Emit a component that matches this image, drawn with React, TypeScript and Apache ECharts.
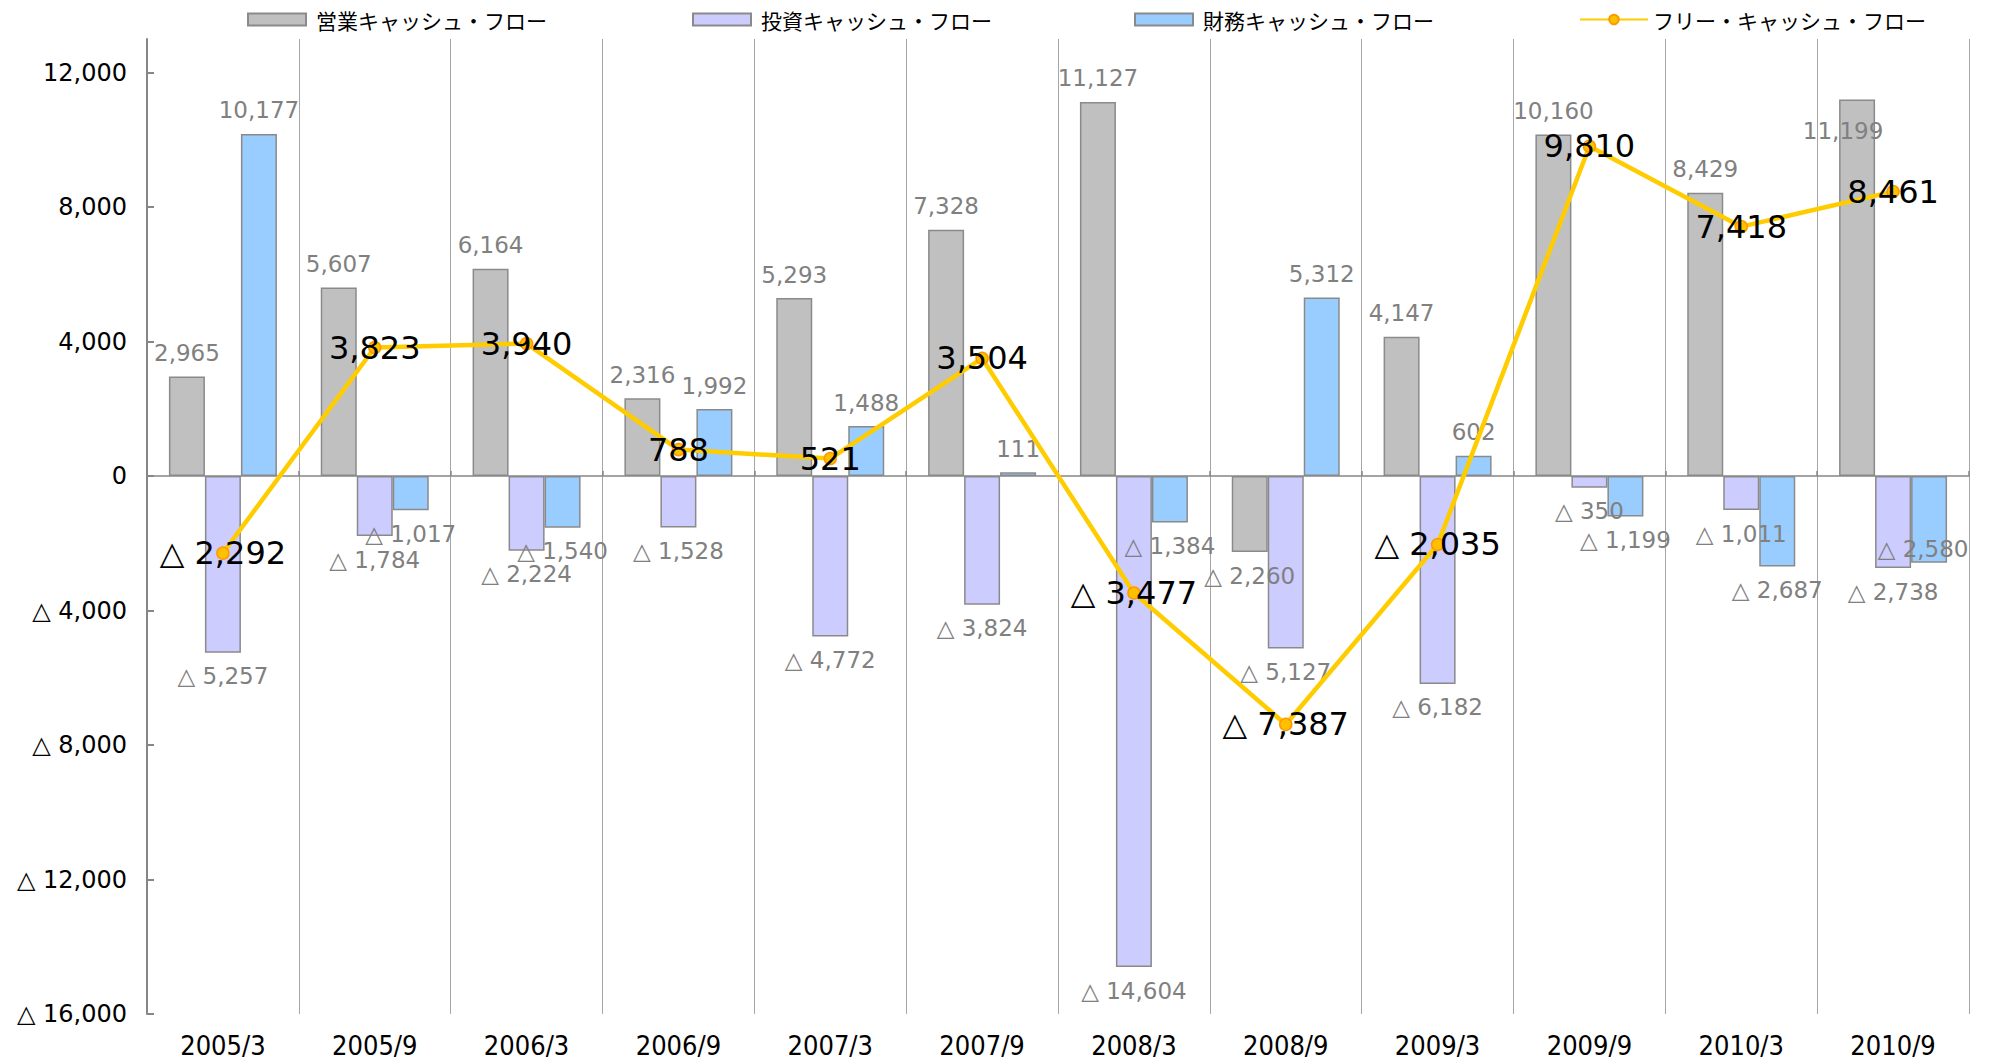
import React, { useEffect, useRef } from 'react';
import * as echarts from 'echarts';

const categories = ['2005/3', '2005/9', '2006/3', '2006/9', '2007/3', '2007/9', '2008/3', '2008/9', '2009/3', '2009/9', '2010/3', '2010/9'];
const operatingCF = [2965, 5607, 6164, 2316, 5293, 7328, 11127, -2260, 4147, 10160, 8429, 11199];
const investingCF = [-5257, -1784, -2224, -1528, -4772, -3824, -14604, -5127, -6182, -350, -1011, -2738];
const financingCF = [10177, -1017, -1540, 1992, 1488, 111, -1384, 5312, 602, -1199, -2687, -2580];
const freeCF = [-2292, 3823, 3940, 788, 521, 3504, -3477, -7387, -2035, 9810, 7418, 8461];
const yTicks = [-16000, -12000, -8000, -4000, 0, 4000, 8000, 12000];
const seriesNames = ['営業キャッシュ・フロー', '投資キャッシュ・フロー', '財務キャッシュ・フロー', 'フリー・キャッシュ・フロー'];

const legendLeft = [247, 692, 1134, 1579];
const labelOverrides: Record<string, any> = {
  'op-11': { position: 'insideTop', distance: 20, offset: [-14, 0] },
  'fin-11': { position: 'insideBottom', distance: 2, offset: [-6, 0] },
};

function fmt(v: number): string {
  const s = Math.abs(v).toLocaleString('en-US');
  return v < 0 ? '△ ' + s : s;
}

function barData(vals: number[], key: string) {
  return vals.map((v, i) => {
    const ov = labelOverrides[`${key}-${i}`];
    return { value: v, label: ov ? ov : { position: v < 0 ? 'bottom' : 'top' } };
  });
}

export default function App() {
  const ref = useRef<HTMLDivElement>(null);
  useEffect(() => {
    document.body.style.margin = '0';
    const chart = echarts.init(ref.current!, undefined, { renderer: 'svg' });
    const barLabel = {
      show: true,
      color: '#808080',
      fontSize: 23,
      fontFamily: 'DejaVu Sans',
      distance: 12,
      formatter: (p: any) => fmt(p.value),
    };
    const barBorder = { borderColor: '#8A8A8A', borderWidth: 1.5 };
    const option: any = {
      animation: false,
      backgroundColor: '#fff',
      grid: { left: 147, right: 23, top: 39, bottom: 47, containLabel: false },
      legend: seriesNames.map((n, i) => ({
        data: [n],
        left: legendLeft[i],
        top: 9,
        padding: 0,
        icon: i === 3 ? undefined : 'rect',
        itemWidth: i === 3 ? 68 : 58,
        itemHeight: 12,
        selectedMode: false,
        textStyle: {
          fontSize: 21,
          fontFamily: 'Noto Sans CJK JP',
          color: '#000',
          padding: i === 3 ? [0, 0, 0, 0] : [0, 0, 0, 5],
        },
      })),
      xAxis: [
        {
          type: 'category',
          data: categories,
          position: 'bottom',
          axisLine: { show: false, onZero: false },
          axisTick: { show: false },
          axisLabel: {
            fontSize: 27,
            color: '#000',
            margin: 18,
            fontFamily: "'DejaVu Sans Condensed', 'Liberation Sans', sans-serif",
          },
          splitLine: { show: true, lineStyle: { color: '#A6A6A6', width: 1 } },
        },
        {
          type: 'category',
          data: categories,
          axisLine: { show: true, onZero: true, lineStyle: { color: '#868686', width: 1.5 } },
          axisTick: { show: true, length: 5, lineStyle: { color: '#868686', width: 1.5 } },
          axisLabel: { show: false },
          splitLine: { show: false },
        },
      ],
      yAxis: {
        type: 'value',
        min: -16000,
        max: 13000,
        interval: 4000,
        axisLine: { show: true, lineStyle: { color: '#868686', width: 2 } },
        axisTick: { show: true, inside: true, length: 7, lineStyle: { color: '#868686', width: 2 }, customValues: yTicks },
        axisLabel: {
          customValues: yTicks,
          formatter: (v: number) => (v > 12000 ? '' : fmt(v)),
          fontSize: 24,
          color: '#000',
          fontFamily: 'DejaVu Sans',
          margin: 20,
        },
        splitLine: { show: false },
      },
      series: [
        {
          name: seriesNames[0],
          type: 'bar',
          xAxisIndex: 0,
          barWidth: 36,
          barGap: '0%',
          itemStyle: { color: '#C0C0C0', ...barBorder },
          label: barLabel,
          data: barData(operatingCF, 'op'),
          z: 2,
        },
        {
          name: seriesNames[1],
          type: 'bar',
          xAxisIndex: 0,
          barWidth: 36,
          barGap: '0%',
          itemStyle: { color: '#CCCCFF', ...barBorder },
          label: barLabel,
          data: barData(investingCF, 'inv'),
          z: 2,
        },
        {
          name: seriesNames[2],
          type: 'bar',
          xAxisIndex: 0,
          barWidth: 36,
          barGap: '0%',
          itemStyle: { color: '#99CCFF', ...barBorder },
          label: barLabel,
          data: barData(financingCF, 'fin'),
          z: 2,
        },
        {
          name: seriesNames[3],
          type: 'line',
          xAxisIndex: 0,
          data: freeCF,
          symbol: 'circle',
          symbolSize: 12,
          lineStyle: { color: '#FFCC00', width: 4.5 },
          itemStyle: { color: '#FFC000', borderColor: '#FF9900', borderWidth: 1.5 },
          label: {
            show: true,
            position: 'inside',
            color: '#000',
            fontSize: 32,
            fontFamily: 'DejaVu Sans',
            formatter: (p: any) => fmt(p.value),
          },
          z: 5,
        },
      ],
    };
    chart.setOption(option);
    return () => chart.dispose();
  }, []);
  return <div ref={ref} style={{ width: 1992, height: 1061 }} />;
}
